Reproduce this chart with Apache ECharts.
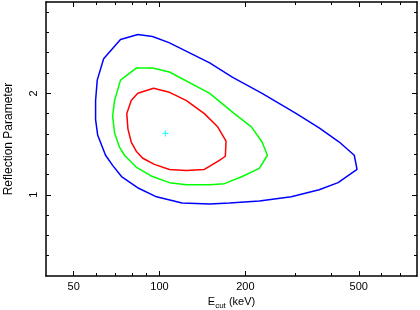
<!DOCTYPE html>
<html>
<head>
<meta charset="utf-8">
<script src="https://cdn.jsdelivr.net/npm/echarts@6/dist/echarts.min.js"></script>
<style>
html, body { margin: 0; padding: 0; background: #fff; }
#chart { width: 420px; height: 310px; }
</style>
</head>
<body>
<div id="chart"></div>
<script>
// contour levels: [Ecut (keV), reflection]
const contour3 = [
    [63.7, 2.34], [60.5, 2.13], [59.7, 1.93], [59.7, 1.74], [60.7, 1.59], [64.7, 1.39],
    [68.5, 1.29], [73.6, 1.18], [83.8, 1.07], [97.6, 0.98], [120, 0.92], [150, 0.91],
    [176, 0.92], [224, 0.94], [290, 0.98], [363, 1.05], [423, 1.12], [493, 1.25],
    [482, 1.39], [427, 1.52], [363, 1.66], [302, 1.80], [229, 2.0], [180, 2.16],
    [150, 2.30], [108, 2.50], [94.5, 2.56], [84, 2.58], [73, 2.53], [63.7, 2.34]
]
const contour2 = [
    [73, 2.13], [69.6, 1.93], [68.5, 1.77], [69.6, 1.61], [72.4, 1.47], [75.4, 1.39],
    [83.1, 1.27], [94.5, 1.18], [108.4, 1.12], [124.3, 1.10], [150, 1.10], [169, 1.11],
    [195, 1.18], [224, 1.26], [239, 1.39], [229, 1.52], [210, 1.67], [183, 1.80],
    [150, 2.0], [108.4, 2.21], [94.5, 2.25], [83.1, 2.25], [73, 2.13]
]
const contour1 = [
    [83.9, 2.00], [95.3, 2.05], [108.4, 2.01], [124, 1.93], [143.7, 1.80], [160, 1.67],
    [171.2, 1.53], [170.2, 1.38], [162.2, 1.34], [143.7, 1.25], [124, 1.24], [108.4, 1.25],
    [96, 1.30], [87.4, 1.36], [82.9, 1.43], [79.6, 1.52], [77.5, 1.65], [76.8, 1.80],
    [79.6, 1.93], [83.9, 2.00]
]
const bestFit = [[104.9, 1.605]]

const xMajorTicks = [50, 100, 200, 500]
const xMinorTicks = [60, 70, 80, 90, 300, 400, 600, 700]
const yMajorTicks = [1, 2]
const yMinorTicks = [0.4, 0.6, 0.8, 1.2, 1.4, 1.6, 1.8, 2.2, 2.4, 2.6, 2.8]

const FONT = 'Liberation Sans, Arial, sans-serif'

function xSide(position, ticks, len, main) {
    return {
        type: 'log',
        logBase: 10,
        min: 40,
        max: 800,
        position: position,
        axisLine: { show: main, onZero: false, lineStyle: { color: '#000', width: 1.5 } },
        axisTick: { customValues: ticks, inside: true, length: len, lineStyle: { color: '#000', width: 1 } },
        axisLabel: { show: false },
        splitLine: { show: false }
    }
}

function ySide(position, ticks, len, main) {
    return {
        type: 'value',
        min: 0.2,
        max: 2.9,
        position: position,
        axisLine: { show: main, onZero: false, lineStyle: { color: '#000', width: 1.5 } },
        axisTick: { customValues: ticks, inside: true, length: len, lineStyle: { color: '#000', width: 1 } },
        axisLabel: { show: false },
        splitLine: { show: false }
    }
}

const xBottom = xSide('bottom', xMajorTicks, 5, true)
xBottom.axisLabel = { show: true, customValues: xMajorTicks, color: '#000', fontSize: 11, fontFamily: FONT, margin: 5 }
xBottom.name = '{a|E}{b|cut}{a| (keV)}'
xBottom.nameLocation = 'middle'
xBottom.nameGap = 18
xBottom.nameTextStyle = {
    color: '#000',
    fontFamily: FONT,
    rich: {
        a: { fontSize: 11, fontFamily: FONT, color: '#000' },
        b: { fontSize: 8, fontFamily: FONT, color: '#000', padding: [6, 0, 0, 0] }
    }
}

const yLeft = ySide('left', yMajorTicks, 5, true)
yLeft.axisLabel = { show: true, customValues: yMajorTicks, rotate: 90, color: '#000', fontSize: 11, fontFamily: FONT, margin: 7 }
yLeft.name = 'Reflection Parameter'
yLeft.nameLocation = 'middle'
yLeft.nameRotate = 90
yLeft.nameGap = 31
yLeft.nameTextStyle = { color: '#000', fontSize: 12, fontFamily: FONT }

function contourSeries(data, color) {
    return {
        type: 'line',
        data: data,
        xAxisIndex: 0,
        yAxisIndex: 0,
        showSymbol: false,
        symbol: 'none',
        lineStyle: { color: color, width: 1.5 },
        silent: true,
        animation: false
    }
}

const chart = echarts.init(document.getElementById('chart'), null, { renderer: 'canvas' })

chart.setOption({
    animation: false,
    backgroundColor: '#fff',
    grid: { left: 46, top: 2, width: 371, height: 274, containLabel: false, outerBoundsMode: 'none' },
    xAxis: [
        xBottom,
        xSide('bottom', xMinorTicks, 3, false),
        xSide('top', xMajorTicks, 5, true),
        xSide('top', xMinorTicks, 3, false)
    ],
    yAxis: [
        yLeft,
        ySide('left', yMinorTicks, 3, false),
        ySide('right', yMajorTicks, 5, true),
        ySide('right', yMinorTicks, 3, false)
    ],
    series: [
        contourSeries(contour3, '#0000ff'),
        contourSeries(contour2, '#00ff00'),
        contourSeries(contour1, '#ff0000'),
        {
            type: 'scatter',
            data: bestFit,
            xAxisIndex: 0,
            yAxisIndex: 0,
            symbol: 'path://M-0.2,-1h0.4v2h-0.4z M-1,-0.2h2v0.4h-2z',
            symbolSize: 6,
            itemStyle: { color: '#00ffff' },
            silent: true
        }
    ]
})
</script>
</body>
</html>
